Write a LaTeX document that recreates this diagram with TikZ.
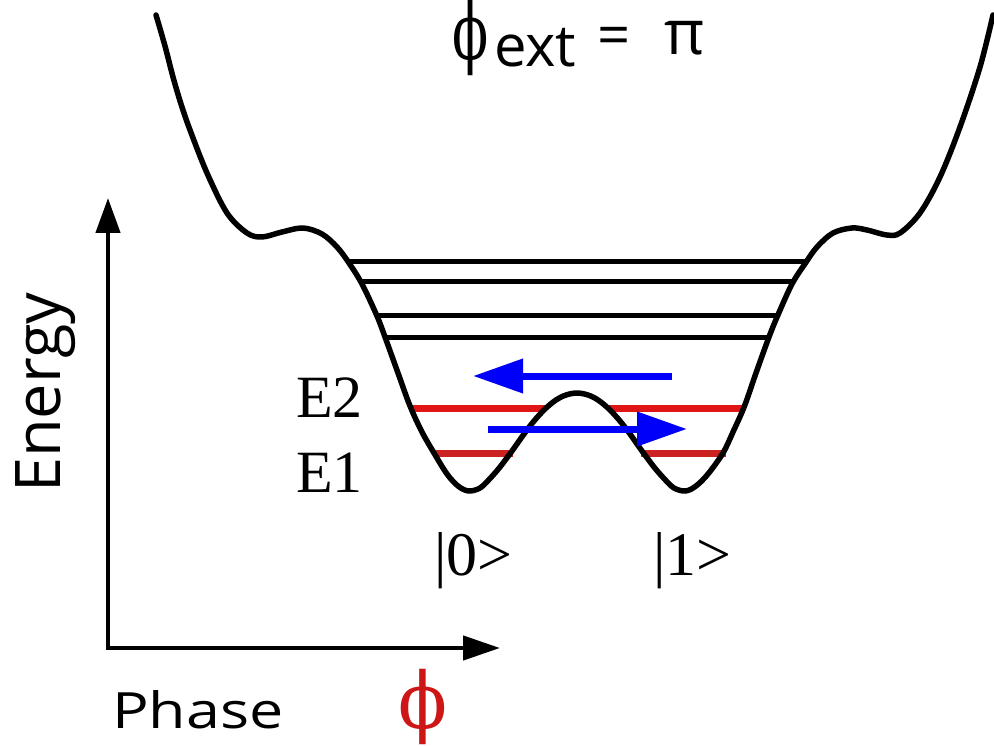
\documentclass[tikz,border=0pt]{standalone}
\usepackage{fontspec}
\setmainfont{Liberation Serif}
\newfontfamily\osans{Open Sans}
\newfontfamily\dvserif{DejaVu Serif}
\usetikzlibrary{arrows.meta}
\definecolor{lvlred}{RGB}{224,22,22}
\definecolor{lvlredlow}{RGB}{204,34,34}
\definecolor{phired}{RGB}{205,22,22}
\definecolor{arrblue}{RGB}{0,0,250}
\begin{document}
\begin{tikzpicture}[x=1pt,y=-1pt,
  potential/.style={line width=5.5pt, line join=round, line cap=round},
  level/.style={line width=5pt},
  redlevel/.style={line width=7pt, lvlred},
  redlevellow/.style={line width=7pt, lvlredlow},
  tunnel/.style={line width=7pt, arrblue, -{Triangle[length=50pt,width=33pt]}},
  axis/.style={line width=4.5pt, {Triangle[length=35pt,width=24pt]}-{Triangle[length=37pt,width=24pt]}},
  sanslbl/.style={inner sep=0pt, font=\osans\fontsize{50}{58}\selectfont},
  seriflbl/.style={inner sep=0pt, font=\fontsize{60}{72}\selectfont},
]
\useasboundingbox (0,0) rectangle (994,746);

% axes
\coordinate (ytip) at (108,198);
\coordinate (origin) at (108,648);
\coordinate (xtip) at (500,648);
\draw[axis] (ytip) -- (origin) -- (xtip);

% red levels E1, E2
\draw[redlevel] (410,408) -- (545,408);
\draw[redlevel] (609,408) -- (745,408);
\draw[redlevellow] (433,453) -- (513,453);
\draw[redlevellow] (641,453) -- (726,453);

% black levels
\draw[level] (348,262) -- (806,262);
\draw[level] (362,282) -- (792,282);
\draw[level] (377,316) -- (778,316);
\draw[level] (385,337) -- (770,337);

% potential
\draw[potential] plot[smooth, tension=0.55] coordinates {
 (156,15) (165,46) (173,77) (181,104) (190,130) (207,173) (227,213) (247,233)
 (262,237) (282,232) (303,228) (322,234) (337,247) (349,263) (362,284) (377,316)
 (385,337) (398,373) (410,406) (422,432) (434,453) (447,474) (458,486) (468.5,491)
 (480,488) (490,478.5) (500,467) (512,451) (524,434) (534,421) (545,409) (556,400)
 (566,395) (577,393)
 (588,395) (598,400) (609,409) (620,421) (630,434) (642,451) (654,467) (664,478.5)
 (674,488) (685.5,491) (696,486) (708,474) (723,453) (733,432) (744.5,406)
 (756,373) (769,337) (777.5,316) (792,284) (805.5,263) (817,247) (833,233)
 (852,228) (867,230) (887,235) (900,233) (920,213) (940,177) (960,127) (980,67)
 (993,15)};

% tunnelling arrows
\coordinate (upA) at (672,376);
\coordinate (upB) at (473,376);
\coordinate (loA) at (488,429);
\coordinate (loB) at (687,429);
\draw[tunnel] (upA) -- (upB);
\draw[tunnel] (loA) -- (loB);

% title
\node[inner sep=0pt, anchor=base west, font=\dvserif\fontsize{78}{90}\selectfont] (tphi) at (452,60) {\scalebox{0.68}[1]{ϕ}};
\node[inner sep=0pt, anchor=base west, font=\osans\fontsize{58}{70}\selectfont] (text) at (494,67) {ext};
\node[inner sep=0pt, anchor=base west, font=\osans\fontsize{58}{70}\selectfont] (teq) at (597,56) {=};
\node[inner sep=0pt, anchor=base west, font=\osans\fontsize{62}{72}\selectfont] (tpi) at (664,55) {π};

% axis labels
\node[sanslbl, font=\osans\fontsize{63}{72}\selectfont, rotate=90, anchor=base west] (energy) at (60,493) {Energy};
\node[sanslbl, anchor=base west] (phase) at (112,728) {\scalebox{1.22}[1]{Phase}};
\node[inner sep=0pt, anchor=base, text=phired, font=\dvserif\fontsize{78}{90}\selectfont] (bphi) at (423,728) {\scalebox{0.92}[1]{ϕ}};

% level and state labels
\node[seriflbl, anchor=base west] (e2) at (296,417) {E2};
\node[seriflbl, anchor=base west] (e1) at (296,492) {E1};
\node[seriflbl, font=\fontsize{62}{72}\selectfont, anchor=base west] (s0) at (434,575) {|0>};
\node[seriflbl, font=\fontsize{62}{72}\selectfont, anchor=base west] (s1) at (653,575) {|1>};
\end{tikzpicture}
\end{document}
